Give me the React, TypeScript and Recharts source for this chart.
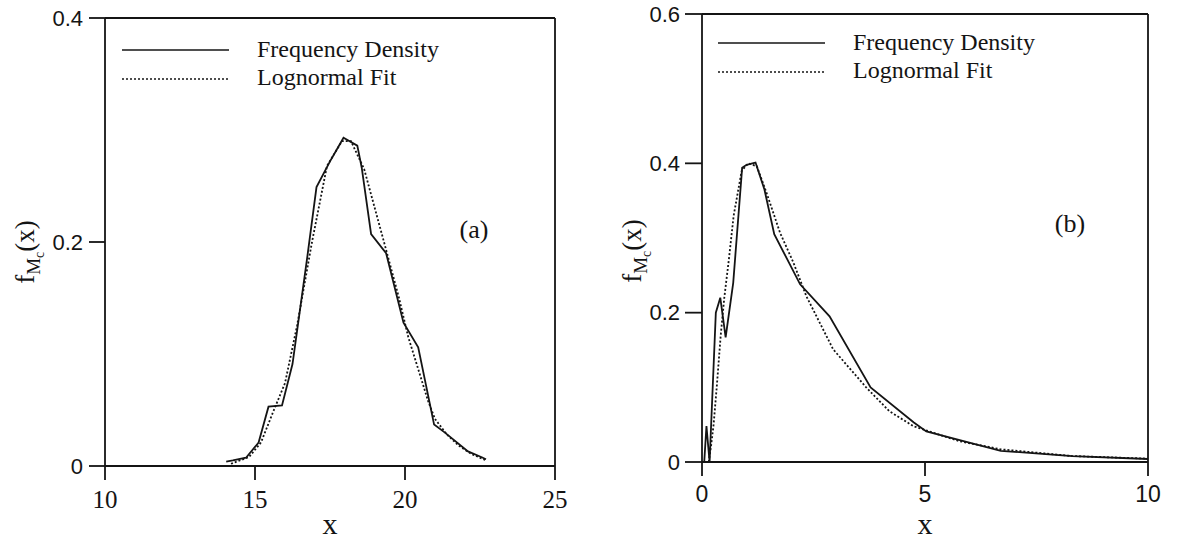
import React from 'react';
import { LineChart, Line, XAxis, YAxis, ReferenceLine, ReferenceDot, Legend } from 'recharts';

// ---- Panel (a) data ----
const aFrequency = [
  { x: 14.04, y: 0.004 }, { x: 14.26, y: 0.005 }, { x: 14.7, y: 0.0074 }, { x: 15.12, y: 0.021 },
  { x: 15.45, y: 0.053 }, { x: 15.9, y: 0.054 }, { x: 16.25, y: 0.091 }, { x: 16.74, y: 0.186 },
  { x: 17.05, y: 0.249 }, { x: 17.5, y: 0.272 }, { x: 17.95, y: 0.293 }, { x: 18.41, y: 0.286 },
  { x: 18.56, y: 0.266 }, { x: 18.87, y: 0.207 }, { x: 19.37, y: 0.19 }, { x: 19.95, y: 0.128 },
  { x: 20.44, y: 0.106 }, { x: 20.97, y: 0.037 }, { x: 21.32, y: 0.03 }, { x: 22.1, y: 0.013 },
  { x: 22.54, y: 0.008 }, { x: 22.7, y: 0.006 },
];
const aLognormal = [
  { x: 14.2, y: 0.002 }, { x: 14.8, y: 0.008 }, { x: 15.2, y: 0.021 }, { x: 15.6, y: 0.048 },
  { x: 16.0, y: 0.074 }, { x: 16.4, y: 0.125 }, { x: 16.9, y: 0.2 }, { x: 17.4, y: 0.268 },
  { x: 17.9, y: 0.29 }, { x: 18.2, y: 0.29 }, { x: 18.64, y: 0.265 }, { x: 19.34, y: 0.196 },
  { x: 19.8, y: 0.15 }, { x: 20.11, y: 0.115 }, { x: 20.4, y: 0.09 }, { x: 20.77, y: 0.058 },
  { x: 21.0, y: 0.042 }, { x: 21.4, y: 0.028 }, { x: 21.8, y: 0.018 }, { x: 22.2, y: 0.011 },
  { x: 22.7, y: 0.005 },
];
const aXTicks = [10, 15, 20, 25];
const aYTicks = [0, 0.2, 0.4];

// ---- Panel (b) data ----
const bFrequency = [
  { x: 0.05, y: 0 }, { x: 0.1, y: 0.048 }, { x: 0.17, y: 0 }, { x: 0.31, y: 0.2 },
  { x: 0.41, y: 0.22 }, { x: 0.53, y: 0.167 }, { x: 0.7, y: 0.24 }, { x: 0.9, y: 0.394 },
  { x: 1.0, y: 0.398 }, { x: 1.2, y: 0.401 }, { x: 1.4, y: 0.365 }, { x: 1.62, y: 0.305 },
  { x: 1.95, y: 0.267 }, { x: 2.2, y: 0.238 }, { x: 2.86, y: 0.195 }, { x: 3.78, y: 0.1 },
  { x: 4.75, y: 0.053 }, { x: 5.03, y: 0.041 }, { x: 6.7, y: 0.015 }, { x: 8.3, y: 0.008 },
  { x: 10, y: 0.004 },
];
const bLognormal = [
  { x: 0.15, y: 0 }, { x: 0.2, y: 0.02 }, { x: 0.26, y: 0.05 }, { x: 0.33, y: 0.1 },
  { x: 0.42, y: 0.17 }, { x: 0.5, y: 0.22 }, { x: 0.6, y: 0.27 }, { x: 0.71, y: 0.33 },
  { x: 0.89, y: 0.39 }, { x: 1.04, y: 0.4 }, { x: 1.23, y: 0.396 }, { x: 1.45, y: 0.36 },
  { x: 1.75, y: 0.307 }, { x: 2.05, y: 0.267 }, { x: 2.34, y: 0.222 }, { x: 2.94, y: 0.151 },
  { x: 3.68, y: 0.1 }, { x: 4.2, y: 0.068 }, { x: 4.74, y: 0.048 }, { x: 5.76, y: 0.028 },
  { x: 6.7, y: 0.017 }, { x: 8.3, y: 0.008 }, { x: 10, y: 0.0045 },
];
const bXTicks = [0, 5, 10];
const bYTicks = [0, 0.2, 0.4, 0.6];

const seriesNames = ['Frequency Density', 'Lognormal Fit'];

const SERIF = '"Liberation Serif", "Times New Roman", Times, serif';
const SANS = '"Liberation Sans", Arial, Helvetica, sans-serif';
const INK = '#141414';

const fmtY = (v: number) => (v === 0 ? '0' : v.toFixed(1));

const LegendBox = () => (
  <svg width={340} height={64} style={{ display: 'block', overflow: 'visible' }}>
    <line x1={4} y1={18} x2={111} y2={18} stroke={INK} strokeWidth={1.6} />
    <line x1={4} y1={47} x2={111} y2={47} stroke={INK} strokeWidth={1.6} strokeDasharray="2 2" />
    <text x={139} y={25} fontFamily={SERIF} fontSize={24} fill={INK}>{seriesNames[0]}</text>
    <text x={139} y={53} fontFamily={SERIF} fontSize={24} fill={INK}>{seriesNames[1]}</text>
  </svg>
);

const YLabel = (props: any) => {
  const { labelX, labelY } = props;
  return (
    <text transform={`translate(${labelX},${labelY}) rotate(-90)`} textAnchor="middle" fontFamily={SERIF} fill={INK}>
      <tspan fontSize={27}>f</tspan>
      <tspan fontSize={19} dy={6}>M</tspan>
      <tspan fontSize={14} dy={4}>c</tspan>
      <tspan fontSize={27} dy={-10}>(x)</tspan>
    </text>
  );
};

const axisLine = { stroke: INK, strokeWidth: 1.8 };

export default function App() {
  return (
    <div style={{ position: 'absolute', left: 0, top: 0, width: 1177, height: 543, background: '#fff' }}>
      <div style={{ position: 'absolute', left: 0, top: 0 }}>
        <LineChart width={580} height={543} margin={{ top: 18, right: 25, bottom: 0, left: 45 }}>
          <XAxis
            dataKey="x" type="number" domain={[10, 25]} ticks={aXTicks} interval={0}
            height={77} axisLine={axisLine} tickLine={axisLine} tickSize={14} tickMargin={10}
            tick={{ fontFamily: SERIF, fontSize: 25, fill: INK }}
            label={{ value: 'x', position: 'insideBottom', offset: 9, fontFamily: SERIF, fontSize: 30, fill: INK }}
          />
          <YAxis
            type="number" domain={[0, 0.4]} ticks={aYTicks} interval={0} width={60}
            axisLine={axisLine} tickLine={axisLine} tickSize={16} tickMargin={6}
            tickFormatter={fmtY} tick={{ fontFamily: SANS, fontSize: 22, fill: INK }}
            label={<YLabel labelX={34} labelY={252} />}
          />
          <ReferenceLine y={0.4} stroke={INK} strokeWidth={1.8} />
          <ReferenceLine x={25} stroke={INK} strokeWidth={1.8} />
          <ReferenceDot x={22.3} y={0.212} r={0} fill="none" stroke="none"
            label={{ value: '(a)', position: 'center', fontFamily: SERIF, fontSize: 26, fill: INK }} />
          <Legend layout="vertical" verticalAlign="middle" align="center"
            wrapperStyle={{ top: 32, left: 118, width: 340, height: 64 }} content={() => <LegendBox />} />
          <Line data={aFrequency} dataKey="y" name={seriesNames[0]} type="linear" stroke={INK} strokeWidth={1.8} dot={false} isAnimationActive={false} />
          <Line data={aLognormal} dataKey="y" name={seriesNames[1]} type="linear" stroke={INK} strokeWidth={1.8} strokeDasharray="2 2" dot={false} isAnimationActive={false} />
        </LineChart>
      </div>
      <div style={{ position: 'absolute', left: 590, top: 0 }}>
        <LineChart width={587} height={543} margin={{ top: 14, right: 29, bottom: 0, left: 52 }}>
          <XAxis
            dataKey="x" type="number" domain={[0, 10]} ticks={bXTicks} interval={0}
            height={81} axisLine={axisLine} tickLine={axisLine} tickSize={14} tickMargin={10}
            tick={{ fontFamily: SANS, fontSize: 23, fill: INK }}
            label={{ value: 'x', position: 'insideBottom', offset: 9, fontFamily: SERIF, fontSize: 30, fill: INK }}
          />
          <YAxis
            type="number" domain={[0, 0.6]} ticks={bYTicks} interval={0} width={60}
            axisLine={axisLine} tickLine={axisLine} tickSize={17} tickMargin={5}
            tickFormatter={fmtY} tick={{ fontFamily: SANS, fontSize: 22, fill: INK }}
            label={<YLabel labelX={51} labelY={251} />}
          />
          <ReferenceLine y={0.6} stroke={INK} strokeWidth={1.8} />
          <ReferenceLine x={10} stroke={INK} strokeWidth={1.8} />
          <ReferenceDot x={8.25} y={0.32} r={0} fill="none" stroke="none"
            label={{ value: '(b)', position: 'center', fontFamily: SERIF, fontSize: 26, fill: INK }} />
          <Legend layout="vertical" verticalAlign="middle" align="center"
            wrapperStyle={{ top: 25, left: 124, width: 340, height: 64 }} content={() => <LegendBox />} />
          <Line data={bFrequency} dataKey="y" name={seriesNames[0]} type="linear" stroke={INK} strokeWidth={1.8} dot={false} isAnimationActive={false} />
          <Line data={bLognormal} dataKey="y" name={seriesNames[1]} type="linear" stroke={INK} strokeWidth={1.8} strokeDasharray="2 2" dot={false} isAnimationActive={false} />
        </LineChart>
      </div>
    </div>
  );
}
